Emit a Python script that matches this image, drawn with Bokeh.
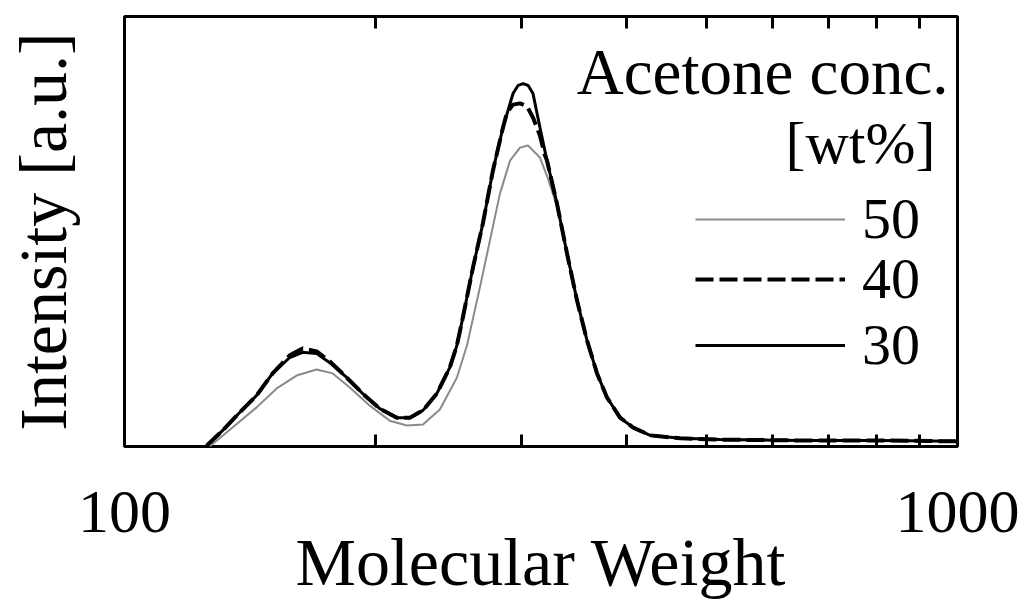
from bokeh.plotting import figure
from bokeh.models import (Range1d, LogAxis, FixedTicker, Legend, LegendItem, Label,
                          PrintfTickFormatter)
from bokeh.embed import file_html
from bokeh.resources import INLINE

# GPC traces: molecular weight vs. detector intensity (a.u.)
# 30 wt% acetone
mw_30 = [125.5, 131.1, 137.5, 144.1, 150.6, 157.9, 163.6, 170.1, 176.4, 184.9,
         193.2, 202.5, 212.3, 220.1, 228.2, 237.1, 245.8, 250.6, 254.8, 262.0,
         269.3, 276.9, 284.7, 292.7, 296.9, 300.9, 305.1, 309.3, 315.3, 321.5,
         330.5, 339.8, 349.3, 359.1, 369.2, 379.5, 393.5, 408.0, 427.6, 464.6,
         518.9, 647.8, 808.4, 1000.0]
int_30 = [0.002, 0.037, 0.079, 0.119, 0.170, 0.207, 0.219, 0.216, 0.195, 0.160,
          0.123, 0.088, 0.067, 0.067, 0.084, 0.123, 0.184, 0.235, 0.300, 0.416,
          0.519, 0.642, 0.742, 0.821, 0.840, 0.844, 0.840, 0.821, 0.742, 0.665,
          0.565, 0.449, 0.340, 0.247, 0.170, 0.114, 0.067, 0.044, 0.026, 0.019,
          0.016, 0.014, 0.014, 0.012]

# 40 wt% acetone
mw_40 = [125.5, 131.1, 137.5, 144.1, 150.6, 157.9, 163.6, 170.1, 176.4, 184.9,
         193.2, 202.5, 212.3, 220.1, 228.2, 237.1, 245.8, 250.6, 254.8, 262.0,
         269.3, 276.9, 284.7, 287.9, 292.7, 298.4, 304.3, 309.3, 315.3, 319.7,
         321.5, 330.5, 339.8, 349.3, 359.1, 369.2, 379.5, 393.5, 408.0, 427.6,
         464.6, 518.9, 647.8, 808.4, 1000.0]
int_40 = [0.002, 0.037, 0.079, 0.119, 0.170, 0.212, 0.228, 0.221, 0.198, 0.160,
          0.123, 0.088, 0.067, 0.067, 0.084, 0.123, 0.184, 0.235, 0.300, 0.416,
          0.519, 0.642, 0.742, 0.777, 0.795, 0.798, 0.791, 0.765, 0.723, 0.677,
          0.665, 0.565, 0.449, 0.340, 0.247, 0.170, 0.114, 0.067, 0.044, 0.026,
          0.019, 0.016, 0.014, 0.014, 0.012]

# 50 wt% acetone
mw_50 = [126.5, 134.8, 144.1, 152.3, 160.9, 170.1, 177.8, 186.4, 197.0, 208.2,
         218.3, 228.2, 239.1, 250.6, 257.7, 267.1, 274.6, 282.3, 290.3, 298.4,
         305.1, 315.3, 322.4, 330.5, 339.8, 349.3, 359.1, 369.2, 379.5, 393.5,
         408.0, 427.6, 464.6, 518.9, 647.8, 808.4, 1000.0]
int_50 = [0.000, 0.044, 0.091, 0.135, 0.165, 0.179, 0.170, 0.137, 0.095, 0.060,
          0.049, 0.051, 0.086, 0.160, 0.235, 0.370, 0.479, 0.588, 0.665, 0.695,
          0.700, 0.672, 0.623, 0.558, 0.449, 0.340, 0.247, 0.170, 0.114, 0.067,
          0.044, 0.026, 0.019, 0.016, 0.014, 0.014, 0.012]

conc_labels = ["50", "40", "30"]
x_major_ticks = [100, 1000]
x_minor_ticks = [200, 300, 400, 500, 600, 700, 800, 900]

FONT = "Liberation Serif"

p = figure(width=1024, height=605, x_axis_type="log",
           x_range=Range1d(100, 1000), y_range=Range1d(0, 1),
           output_backend="svg", toolbar_location=None,
           min_border_left=124, min_border_right=67,
           min_border_top=16, min_border_bottom=159)

p.background_fill_color = "white"
p.border_fill_color = "white"
p.xgrid.visible = False
p.ygrid.visible = False
p.outline_line_color = "black"
p.outline_line_width = 3

# bottom axis: labels only at 100 and 1000, inward minor ticks
xa = p.xaxis[0]
xa.ticker = FixedTicker(ticks=x_major_ticks, minor_ticks=x_minor_ticks)
xa.formatter = PrintfTickFormatter(format="%d")
xa.axis_line_color = None
xa.major_tick_in = 0
xa.major_tick_out = 0
xa.minor_tick_in = 12
xa.minor_tick_out = 0
xa.minor_tick_line_width = 3
xa.minor_tick_line_color = "black"
xa.major_label_text_font = FONT
xa.major_label_text_font_size = "62px"
xa.major_label_text_color = "black"
xa.major_label_standoff = 45
xa.axis_label = "Molecular Weight"
xa.axis_label_text_font = FONT
xa.axis_label_text_font_size = "68px"
xa.axis_label_text_font_style = "normal"
xa.axis_label_text_color = "black"
xa.axis_label_standoff = -11

# top axis mirrors the minor ticks, its labels are hidden
top = LogAxis(ticker=FixedTicker(ticks=x_major_ticks, minor_ticks=x_minor_ticks),
              axis_line_color=None, major_tick_in=0, major_tick_out=0,
              minor_tick_in=12, minor_tick_out=0, minor_tick_line_width=3,
              minor_tick_line_color="black",
              major_label_text_font_size="1px", major_label_text_alpha=0,
              major_label_standoff=0)
p.add_layout(top, "above")

# left axis: title only
ya = p.yaxis[0]
ya.ticker = FixedTicker(ticks=[])
ya.axis_line_color = None
ya.major_tick_in = 0
ya.major_tick_out = 0
ya.minor_tick_in = 0
ya.minor_tick_out = 0
ya.major_label_standoff = 0
ya.axis_label = "Intensity [a.u.]"
ya.axis_label_text_font = FONT
ya.axis_label_text_font_size = "68px"
ya.axis_label_text_font_style = "normal"
ya.axis_label_text_color = "black"
ya.axis_label_standoff = 44

r50 = p.line(mw_50, int_50, line_color="#8a8a8a", line_width=2)
r30 = p.line(mw_30, int_30, line_color="black", line_width=3)
r40 = p.line(mw_40, int_40, line_color="black", line_width=4, line_dash="18 6")

# one legend entry per row, stacked under the legend heading
for label, rend, yloc in zip(conc_labels, [r50, r40, r30], [194, 134, 68]):
    p.add_layout(Legend(items=[LegendItem(label=label, renderers=[rend])],
                        location=(571, yloc), glyph_width=150, glyph_height=40,
                        label_height=20, label_standoff=17, spacing=0,
                        padding=0, margin=0, border_line_color=None,
                        background_fill_alpha=0,
                        label_text_font=FONT, label_text_font_size="58px",
                        label_text_color="black"))

p.add_layout(Label(x=824, y=375, x_units="screen", y_units="screen",
                   text="Acetone conc.", text_align="right",
                   text_baseline="alphabetic", text_font=FONT,
                   text_font_size="65px", text_color="black"))
p.add_layout(Label(x=811, y=304, x_units="screen", y_units="screen",
                   text="[wt%]", text_align="right",
                   text_baseline="alphabetic", text_font=FONT,
                   text_font_size="60px", text_color="black"))

open("out.html", "w").write(file_html(p, INLINE))
